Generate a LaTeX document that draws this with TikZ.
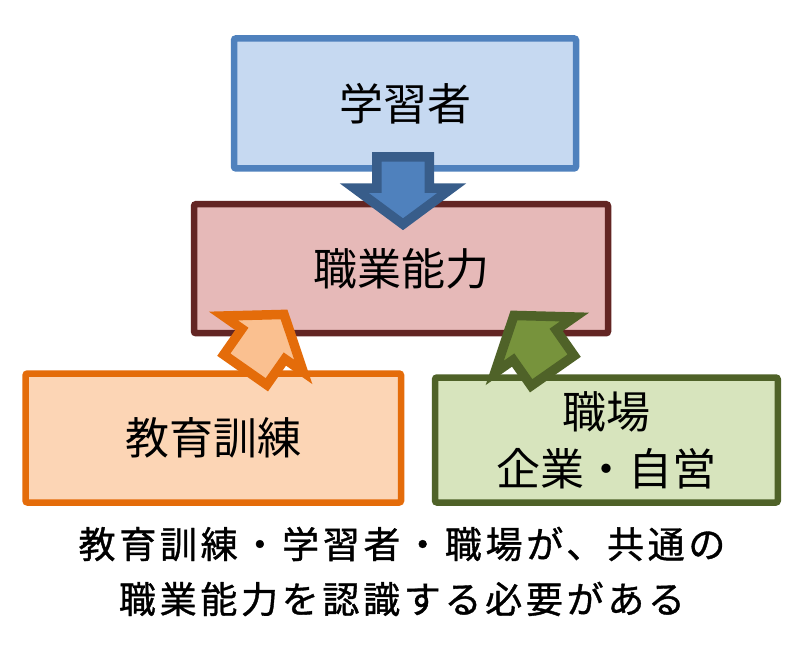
\documentclass[tikz,border=0pt]{standalone}
\usepackage{fontspec}
\usepackage{tikz}
\usetikzlibrary{shapes.arrows, positioning}
\newfontfamily\jpfont{Noto Sans CJK JP}
\newfontfamily\jpnote[LetterSpace=10, FakeBold=1]{Noto Sans CJK JP}
\definecolor{learnfill}{HTML}{C6D9F1}
\definecolor{learnline}{HTML}{4F81BD}
\definecolor{skillfill}{HTML}{E6B9B8}
\definecolor{skillline}{HTML}{632523}
\definecolor{trainfill}{HTML}{FCD5B5}
\definecolor{trainline}{HTML}{E46C0A}
\definecolor{workfill}{HTML}{D7E4BD}
\definecolor{workline}{HTML}{4F6228}
\definecolor{downfill}{HTML}{4F81BD}
\definecolor{downline}{HTML}{385D8A}
\definecolor{trainarr}{HTML}{FAC090}
\definecolor{workarr}{HTML}{77933C}

\begin{document}
\begin{tikzpicture}[x=1pt, y=-1pt,
    box/.style={rectangle, draw, line width=6.5pt, rounded corners=2pt, inner sep=0pt, align=center, font=\jpfont\fontsize{44}{57}\selectfont},
    blockarr/.style={single arrow, draw, line width=9.5pt, inner xsep=0pt, inner ysep=21.5pt, minimum width=0pt, minimum height=67.5pt, single arrow head extend=22.5pt, single arrow tip angle=107, anchor=tail}]
        \useasboundingbox (0,0) rectangle (806,667);
        \node[box, fill=learnfill, draw=learnline, minimum width=342pt, minimum height=130pt] (learner) at (405,103.4) {学習者};
        \node[box, fill=skillfill, draw=skillline, minimum width=414pt, minimum height=129pt] (skill) at (401,268.7) {職業能力};
        \node[box, fill=trainfill, draw=trainline, minimum width=375.5pt, minimum height=129pt] (training) at (213.3,438) {教育訓練};
        \node[box, fill=workfill, draw=workline, minimum width=342.7pt, minimum height=125pt] (workplace) at (606.4,440) {職場\\企業・自営};
        \coordinate (downtail) at (403,152);
        \coordinate (traintail) at (242.6,373.6);
        \coordinate (worktail) at (555.4,374.6);
        \node[blockarr, fill=downfill, draw=downline, rotate=-90] (down) at (downtail) {};
        \node[blockarr, fill=trainarr, draw=trainline, rotate=55] (trainup) at (traintail) {};
        \node[blockarr, fill=workarr, draw=workline, rotate=125] (workup) at (worktail) {};
        \node[align=center, font=\jpnote\fontsize{37}{55}\selectfont] (note) at (402,571.5) {教育訓練・学習者・職場が、共通の\\職業能力を認識する必要がある};
    \end{tikzpicture}
\end{document}
